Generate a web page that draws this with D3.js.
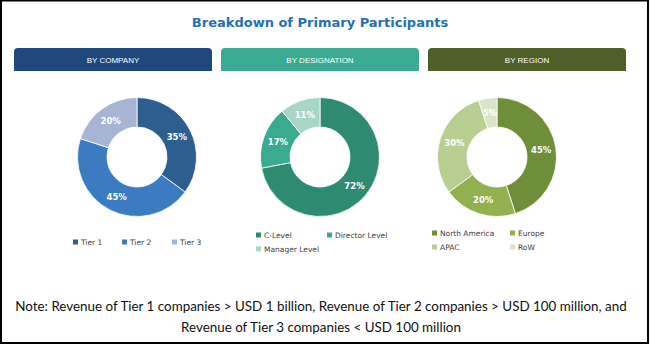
<!DOCTYPE html>
<html><head><meta charset="utf-8">
<script src="https://cdn.jsdelivr.net/npm/d3@7"></script>
<style>body{margin:0;background:#fff}svg{display:block}</style>
</head><body>
<svg id="c" width="650" height="344"></svg>
<script>
const title = "Breakdown of Primary Participants";
const panelTitles = ["BY COMPANY", "BY DESIGNATION", "BY REGION"];
const companyLabels = ["Tier 1", "Tier 2", "Tier 3"];
const companyValues = [35, 45, 20];
const designationLabels = ["C-Level", "Director Level", "Manager Level"];
const designationValues = [72, 17, 11];
const regionLabels = ["North America", "Europe", "APAC", "RoW"];
const regionValues = [45, 20, 30, 5];
const noteLines = ["Note: Revenue of Tier 1 companies > USD 1 billion, Revenue of Tier 2 companies > USD 100 million, and",
                   "Revenue of Tier 3 companies < USD 100 million"];

const panels = [
  {head:"#1f487c", colors:["#2e5e8f","#3b7bbf","#a6b5d4"], labels:companyLabels, values:companyValues,
   tab:[14,212], cx:137, legend:{x0:73, y0:242, cols:[0,49,99], perRow:3, rowH:14}},
  {head:"#3aab92", colors:["#2f8a72","#3aab91","#a9d5c7"], labels:designationLabels, values:designationValues,
   tab:[221,419], cx:320, legend:{x0:256, y0:235, cols:[0,71], perRow:2, rowH:14}},
  {head:"#4e5f27", colors:["#6e8e3a","#91b150","#b8cf91","#dbe4c9"], labels:regionLabels, values:regionValues,
   tab:[428,626], cx:497, legend:{x0:432, y0:233, cols:[0,78], perRow:2, rowH:14}}
];

const svg = d3.select("#c");
svg.append("rect").attr("x",1).attr("y",0.5).attr("width",647).attr("height",342.5)
  .attr("fill","none").attr("stroke","#000").attr("stroke-width",2);

svg.append("text").attr("x",320).attr("y",27).attr("text-anchor","middle")
  .attr("font-family","DejaVu Sans").attr("font-weight","bold").attr("font-size",13)
  .attr("fill","#2371b5").text(title);

const cy = 157, rOut = 59.5, rIn = 30;
const pie = d3.pie().sort(null).value(d=>d);
const arc = d3.arc().innerRadius(rIn).outerRadius(rOut);
const labelArc = d3.arc().innerRadius((rIn+rOut)/2).outerRadius((rIn+rOut)/2);

panels.forEach((p,i)=>{
  const w = p.tab[1]-p.tab[0];
  const r = 4, x0 = p.tab[0], y0 = 48, h = 23;
  svg.append("path")
    .attr("d",`M${x0},${y0+h}V${y0+r}Q${x0},${y0} ${x0+r},${y0}H${x0+w-r}Q${x0+w},${y0} ${x0+w},${y0+r}V${y0+h}Z`)
    .attr("fill",p.head);
  svg.append("text").attr("x",x0+w/2).attr("y",63).attr("text-anchor","middle")
    .attr("font-family","Liberation Sans").attr("font-size",8).attr("fill","#fff").text(panelTitles[i]);

  const g = svg.append("g").attr("transform",`translate(${p.cx},${cy})`);
  const arcs = pie(p.values);
  g.selectAll("path").data(arcs).join("path").attr("d",arc)
    .attr("fill",(d,j)=>p.colors[j]).attr("stroke","#fff").attr("stroke-width",0.8);
  g.selectAll("text").data(arcs).join("text")
    .attr("transform",d=>`translate(${labelArc.centroid(d)})`)
    .attr("text-anchor","middle").attr("dy","0.35em")
    .attr("font-family","DejaVu Sans").attr("font-weight","bold").attr("font-size",8.5)
    .attr("fill","#fff").text(d=>d.data+"%");

  const L = p.legend;
  p.labels.forEach((lab,j)=>{
    const col = j % L.perRow, row = Math.floor(j / L.perRow);
    const lx = L.x0 + L.cols[col], ly = L.y0 + row*L.rowH;
    svg.append("rect").attr("x",lx).attr("y",ly-2.5).attr("width",5).attr("height",5).attr("fill",p.colors[j]);
    svg.append("text").attr("x",lx+8).attr("y",ly).attr("dy","0.35em")
      .attr("font-family","DejaVu Sans").attr("font-size",7.5).attr("fill","#404040").text(lab);
  });
});

noteLines.forEach((t,k)=>{
  svg.append("text").attr("x",321).attr("y",311+k*21).attr("text-anchor","middle")
    .attr("font-family","Lato").attr("font-size",13.4).attr("fill","#111").text(t);
});
</script>
</body></html>
